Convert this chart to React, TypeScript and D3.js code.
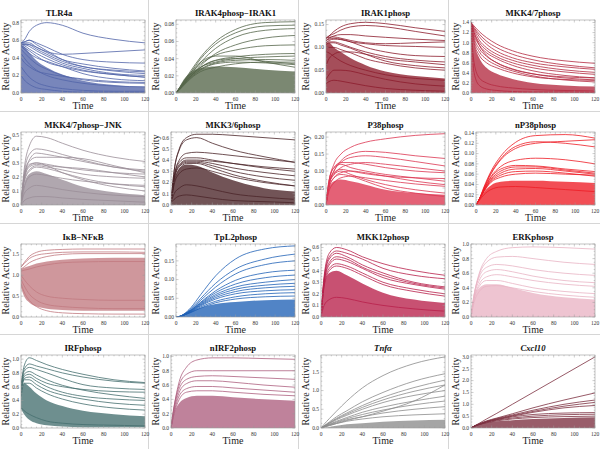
import React from "react";
import * as d3 from "d3";

const TIMES = [0, 3, 8, 15, 25, 40, 60, 90, 120];
const X_TICKS = [0, 20, 40, 60, 80, 100, 120];

const TITLES = [
  "TLR4a", "IRAK4phosp−IRAK1", "IRAK1phosp", "MKK4/7phosp",
  "MKK4/7phosp−JNK", "MKK3/6phosp", "P38phosp", "nP38phosp",
  "IκB−NFκB", "TpL2phosp", "MKK12phosp", "ERKphosp",
  "IRFphosp", "nIRF2phosp", "Tnfα", "Cxcl10",
];
const ITALIC_TITLES = ["Tnfα", "Cxcl10"];

const COLORS = [
  "#5264a8", "#56664a", "#8c1c2c", "#b42a40",
  "#9a8e98", "#4a2428", "#dc3550", "#ee1c25",
  "#c27a80", "#2061b6", "#b8204a", "#e9b4c4",
  "#456f6f", "#ad5f7f", "#8c8c8c", "#7c3040",
];

const Y_MAX = [0.83, 0.085, 0.16, 1.45, 0.52, 0.65, 0.215, 0.142, 1.75, 0.195, 0.63, 1.0, 1.06, 1.02, 1.95, 3.08];
const Y_STEP = [0.2, 0.02, 0.05, 0.2, 0.1, 0.1, 0.05, 0.02, 0.5, 0.05, 0.1, 0.2, 0.2, 0.2, 0.5, 0.5];
const Y_DEC = [1, 2, 2, 1, 1, 1, 2, 2, 1, 2, 1, 1, 1, 1, 1, 1];

// upper edge of the dense bundle of trajectories (lower edge is 0 unless listed)
const tlr4aBand = [0.55, 0.53, 0.46, 0.37, 0.29, 0.21, 0.14, 0.09, 0.07];
const irak4Band = [0, 0.006, 0.016, 0.024, 0.029, 0.031, 0.03, 0.027, 0.025];
const irak1Band = [0.11, 0.11, 0.1, 0.09, 0.076, 0.061, 0.047, 0.037, 0.032];
const mkk47Band = [1.4, 1.0, 0.7, 0.5, 0.38, 0.28, 0.2, 0.15, 0.13];
const jnkBand = [0, 0.15, 0.22, 0.24, 0.22, 0.18, 0.13, 0.09, 0.07];
const mkk36Band = [0.02, 0.2, 0.32, 0.36, 0.35, 0.29, 0.22, 0.15, 0.12];
const p38Band = [0, 0.05, 0.07, 0.075, 0.07, 0.06, 0.045, 0.035, 0.03];
const np38Band = [0, 0.008, 0.025, 0.038, 0.045, 0.047, 0.047, 0.045, 0.043];
const ikbBand = [1.15, 1.18, 1.22, 1.28, 1.33, 1.37, 1.4, 1.42, 1.42];
const ikbLow = [0.7, 0.5, 0.35, 0.25, 0.2, 0.17, 0.15, 0.15, 0.15];
const tpl2Band = [0, 0.001, 0.006, 0.015, 0.025, 0.035, 0.04, 0.045, 0.047];
const mkk12Band = [0, 0.28, 0.38, 0.4, 0.36, 0.29, 0.21, 0.15, 0.12];
const erkBand = [0, 0.25, 0.4, 0.45, 0.45, 0.4, 0.33, 0.27, 0.24];
const irfBand = [0.5, 0.65, 0.6, 0.5, 0.4, 0.32, 0.25, 0.2, 0.17];
const irfLow = [0.28, 0.2, 0.12, 0.07, 0.04, 0.02, 0.01, 0.01, 0.01];
const nirf2Band = [0, 0.2, 0.35, 0.42, 0.45, 0.45, 0.43, 0.4, 0.38];
const tnfBand = [0, 0.01, 0.03, 0.06, 0.1, 0.13, 0.17, 0.2, 0.22];
const cxcl10Band = [0, 0.06, 0.14, 0.22, 0.28, 0.33, 0.38, 0.42, 0.45];

// distinct trajectories standing out from the bundle
const tlr4aLines = [
  [0.57, 0.6, 0.7, 0.77, 0.8, 0.77, 0.68, 0.61, 0.57],
  [0.57, 0.57, 0.57, 0.52, 0.47, 0.44, 0.45, 0.47, 0.49],
  [0.57, 0.58, 0.6, 0.57, 0.52, 0.44, 0.38, 0.35, 0.34],
  [0.57, 0.58, 0.6, 0.55, 0.48, 0.38, 0.3, 0.26, 0.24],
  [0.56, 0.56, 0.55, 0.5, 0.44, 0.36, 0.3, 0.25, 0.22],
  [0.55, 0.55, 0.53, 0.48, 0.42, 0.34, 0.28, 0.22, 0.2],
  [0.55, 0.54, 0.5, 0.45, 0.39, 0.32, 0.26, 0.21, 0.18],
  [0.54, 0.52, 0.48, 0.42, 0.35, 0.3, 0.25, 0.21, 0.18],
  [0.53, 0.5, 0.45, 0.4, 0.36, 0.3, 0.22, 0.16, 0.14],
  [0.56, 0.55, 0.55, 0.52, 0.46, 0.38, 0.33, 0.28, 0.25],
  [0.5, 0.46, 0.4, 0.33, 0.27, 0.2, 0.15, 0.12, 0.11],
  [0.45, 0.4, 0.33, 0.26, 0.2, 0.15, 0.11, 0.08, 0.07],
  [0.4, 0.35, 0.3, 0.25, 0.22, 0.19, 0.16, 0.13, 0.12],
  [0.3, 0.25, 0.18, 0.12, 0.08, 0.05, 0.03, 0.02, 0.02],
  [0.2, 0.15, 0.1, 0.06, 0.04, 0.02, 0.01, 0.01, 0.01],
];
const irak4Lines = [
  [0, 0.005, 0.014, 0.026, 0.042, 0.06, 0.074, 0.082, 0.083],
  [0, 0.005, 0.013, 0.024, 0.04, 0.057, 0.07, 0.078, 0.079],
  [0, 0.005, 0.012, 0.022, 0.036, 0.052, 0.065, 0.073, 0.075],
  [0, 0.004, 0.011, 0.02, 0.032, 0.046, 0.056, 0.064, 0.067],
  [0, 0.004, 0.012, 0.022, 0.034, 0.044, 0.05, 0.055, 0.056],
  [0, 0.005, 0.013, 0.024, 0.036, 0.043, 0.043, 0.036, 0.03],
  [0, 0.004, 0.011, 0.02, 0.03, 0.038, 0.042, 0.045, 0.046],
  [0, 0.004, 0.011, 0.02, 0.03, 0.036, 0.04, 0.042, 0.043],
  [0, 0.004, 0.01, 0.019, 0.028, 0.035, 0.038, 0.039, 0.038],
  [0, 0.004, 0.01, 0.018, 0.027, 0.034, 0.036, 0.035, 0.033],
  [0, 0.004, 0.011, 0.02, 0.03, 0.038, 0.04, 0.037, 0.034],
  [0, 0.003, 0.009, 0.017, 0.025, 0.03, 0.034, 0.036, 0.036],
];
const irak1Lines = [
  [0.12, 0.125, 0.135, 0.145, 0.152, 0.155, 0.152, 0.143, 0.135],
  [0.12, 0.125, 0.13, 0.138, 0.145, 0.148, 0.145, 0.135, 0.125],
  [0.115, 0.12, 0.125, 0.128, 0.128, 0.125, 0.122, 0.118, 0.115],
  [0.12, 0.122, 0.123, 0.12, 0.115, 0.11, 0.108, 0.11, 0.112],
  [0.11, 0.115, 0.118, 0.117, 0.112, 0.108, 0.104, 0.102, 0.1],
  [0.115, 0.118, 0.12, 0.118, 0.112, 0.1, 0.09, 0.082, 0.08],
  [0.11, 0.112, 0.112, 0.108, 0.1, 0.09, 0.08, 0.072, 0.068],
  [0.105, 0.11, 0.11, 0.105, 0.098, 0.085, 0.07, 0.06, 0.055],
  [0.1, 0.1, 0.1, 0.095, 0.088, 0.075, 0.065, 0.055, 0.05],
  [0.06, 0.075, 0.085, 0.09, 0.09, 0.085, 0.075, 0.068, 0.062],
  [0.09, 0.088, 0.08, 0.07, 0.06, 0.05, 0.04, 0.032, 0.028],
  [0.03, 0.04, 0.05, 0.05, 0.048, 0.04, 0.03, 0.02, 0.015],
  [0.02, 0.025, 0.028, 0.026, 0.022, 0.016, 0.01, 0.006, 0.004],
];
const mkk47Lines = [
  [1.4, 1.33, 1.22, 1.1, 0.97, 0.84, 0.73, 0.64, 0.59],
  [1.4, 1.3, 1.17, 1.03, 0.9, 0.77, 0.66, 0.56, 0.5],
  [1.4, 1.28, 1.12, 0.97, 0.83, 0.7, 0.6, 0.52, 0.47],
  [1.4, 1.25, 1.05, 0.9, 0.77, 0.65, 0.55, 0.46, 0.41],
  [1.4, 1.2, 1.0, 0.85, 0.72, 0.6, 0.5, 0.42, 0.37],
  [1.4, 1.15, 0.95, 0.8, 0.68, 0.55, 0.44, 0.35, 0.3],
  [1.4, 1.1, 0.88, 0.73, 0.6, 0.48, 0.38, 0.3, 0.26],
  [1.4, 1.05, 0.82, 0.67, 0.55, 0.44, 0.34, 0.26, 0.22],
  [1.4, 1.0, 0.75, 0.6, 0.5, 0.4, 0.32, 0.27, 0.25],
  [1.4, 1.2, 0.95, 0.75, 0.6, 0.47, 0.38, 0.32, 0.3],
  [1.4, 0.6, 0.3, 0.2, 0.14, 0.1, 0.07, 0.05, 0.04],
  [1.4, 0.4, 0.15, 0.08, 0.05, 0.03, 0.02, 0.02, 0.01],
];
const jnkLines = [
  [0, 0.25, 0.42, 0.49, 0.48, 0.44, 0.39, 0.34, 0.31],
  [0, 0.22, 0.36, 0.4, 0.39, 0.36, 0.32, 0.27, 0.24],
  [0, 0.2, 0.32, 0.37, 0.36, 0.34, 0.31, 0.27, 0.25],
  [0, 0.2, 0.31, 0.34, 0.34, 0.34, 0.33, 0.28, 0.23],
  [0, 0.19, 0.29, 0.3, 0.29, 0.27, 0.25, 0.23, 0.22],
  [0, 0.18, 0.27, 0.29, 0.28, 0.27, 0.26, 0.23, 0.2],
  [0, 0.17, 0.25, 0.28, 0.27, 0.25, 0.22, 0.2, 0.19],
  [0, 0.16, 0.24, 0.27, 0.26, 0.23, 0.19, 0.15, 0.13],
  [0, 0.18, 0.28, 0.3, 0.28, 0.23, 0.18, 0.13, 0.1],
  [0, 0.12, 0.2, 0.22, 0.21, 0.19, 0.17, 0.15, 0.14],
  [0, 0.08, 0.12, 0.14, 0.13, 0.11, 0.09, 0.07, 0.06],
  [0, 0.03, 0.05, 0.06, 0.06, 0.05, 0.04, 0.03, 0.02],
];
const mkk36Lines = [
  [0.02, 0.3, 0.5, 0.6, 0.63, 0.63, 0.62, 0.6, 0.58],
  [0.02, 0.3, 0.49, 0.58, 0.6, 0.55, 0.49, 0.43, 0.38],
  [0.02, 0.25, 0.4, 0.46, 0.47, 0.46, 0.44, 0.41, 0.38],
  [0.02, 0.25, 0.38, 0.42, 0.42, 0.4, 0.37, 0.33, 0.3],
  [0.02, 0.24, 0.36, 0.4, 0.4, 0.39, 0.37, 0.34, 0.32],
  [0.02, 0.23, 0.35, 0.39, 0.39, 0.37, 0.33, 0.29, 0.26],
  [0.02, 0.22, 0.34, 0.38, 0.38, 0.35, 0.3, 0.25, 0.22],
  [0.02, 0.2, 0.32, 0.37, 0.37, 0.33, 0.27, 0.21, 0.17],
  [0.02, 0.18, 0.28, 0.32, 0.33, 0.3, 0.25, 0.2, 0.17],
  [0.02, 0.1, 0.15, 0.18, 0.17, 0.14, 0.1, 0.07, 0.05],
  [0.02, 0.05, 0.08, 0.09, 0.08, 0.06, 0.04, 0.03, 0.02],
];
const p38Lines = [
  [0, 0.07, 0.12, 0.15, 0.17, 0.185, 0.195, 0.205, 0.21],
  [0, 0.06, 0.1, 0.13, 0.15, 0.158, 0.155, 0.145, 0.137],
  [0, 0.06, 0.1, 0.125, 0.14, 0.145, 0.14, 0.128, 0.115],
  [0, 0.07, 0.11, 0.125, 0.125, 0.12, 0.11, 0.1, 0.095],
  [0, 0.06, 0.09, 0.11, 0.12, 0.125, 0.12, 0.11, 0.1],
  [0, 0.07, 0.11, 0.12, 0.11, 0.1, 0.09, 0.08, 0.07],
  [0, 0.06, 0.095, 0.105, 0.1, 0.092, 0.085, 0.08, 0.078],
  [0, 0.05, 0.08, 0.095, 0.1, 0.095, 0.085, 0.07, 0.06],
  [0, 0.06, 0.09, 0.1, 0.09, 0.075, 0.06, 0.045, 0.035],
  [0, 0.04, 0.065, 0.08, 0.085, 0.08, 0.072, 0.062, 0.055],
  [0, 0.05, 0.08, 0.09, 0.085, 0.07, 0.05, 0.035, 0.025],
];
const np38Lines = [
  [0, 0.01, 0.035, 0.065, 0.095, 0.122, 0.135, 0.137, 0.13],
  [0, 0.01, 0.032, 0.06, 0.088, 0.11, 0.12, 0.124, 0.127],
  [0, 0.01, 0.033, 0.062, 0.09, 0.114, 0.123, 0.12, 0.113],
  [0, 0.01, 0.03, 0.055, 0.075, 0.087, 0.091, 0.088, 0.08],
  [0, 0.01, 0.03, 0.053, 0.07, 0.077, 0.076, 0.07, 0.065],
  [0, 0.01, 0.028, 0.05, 0.066, 0.074, 0.074, 0.068, 0.062],
  [0, 0.01, 0.028, 0.048, 0.062, 0.07, 0.071, 0.066, 0.06],
  [0, 0.009, 0.027, 0.046, 0.058, 0.065, 0.066, 0.062, 0.056],
  [0, 0.009, 0.026, 0.044, 0.054, 0.06, 0.062, 0.06, 0.058],
  [0, 0.008, 0.02, 0.03, 0.035, 0.036, 0.034, 0.03, 0.026],
];
const ikbLines = [
  [1.2, 1.3, 1.45, 1.55, 1.6, 1.62, 1.63, 1.63, 1.63],
  [1.2, 1.28, 1.4, 1.48, 1.52, 1.55, 1.56, 1.56, 1.55],
  [1.15, 1.2, 1.3, 1.38, 1.45, 1.5, 1.52, 1.52, 1.52],
  [1.1, 1.12, 1.15, 1.2, 1.25, 1.3, 1.32, 1.33, 1.33],
  [1.0, 0.9, 0.75, 0.6, 0.5, 0.45, 0.42, 0.4, 0.4],
  [0.9, 0.75, 0.55, 0.4, 0.3, 0.25, 0.22, 0.2, 0.2],
  [0.8, 0.6, 0.4, 0.25, 0.15, 0.1, 0.08, 0.07, 0.07],
];
const tpl2Lines = [
  [0, 0.001, 0.008, 0.025, 0.06, 0.11, 0.155, 0.182, 0.19],
  [0, 0.001, 0.007, 0.022, 0.05, 0.09, 0.128, 0.155, 0.168],
  [0, 0.001, 0.007, 0.02, 0.045, 0.08, 0.115, 0.14, 0.15],
  [0, 0.001, 0.006, 0.018, 0.04, 0.07, 0.098, 0.118, 0.125],
  [0, 0.001, 0.006, 0.018, 0.038, 0.065, 0.088, 0.105, 0.112],
  [0, 0.001, 0.006, 0.017, 0.036, 0.06, 0.08, 0.093, 0.1],
  [0, 0.001, 0.006, 0.016, 0.034, 0.056, 0.074, 0.085, 0.09],
  [0, 0.001, 0.005, 0.015, 0.032, 0.052, 0.068, 0.078, 0.082],
  [0, 0.001, 0.005, 0.014, 0.03, 0.048, 0.062, 0.07, 0.073],
  [0, 0.001, 0.005, 0.013, 0.027, 0.042, 0.054, 0.062, 0.065],
  [0, 0.001, 0.005, 0.012, 0.024, 0.038, 0.048, 0.054, 0.056],
];
const mkk12Lines = [
  [0, 0.35, 0.55, 0.6, 0.58, 0.52, 0.46, 0.4, 0.36],
  [0, 0.33, 0.52, 0.57, 0.55, 0.5, 0.42, 0.36, 0.33],
  [0, 0.32, 0.5, 0.55, 0.52, 0.45, 0.38, 0.3, 0.26],
  [0, 0.3, 0.47, 0.52, 0.5, 0.43, 0.36, 0.29, 0.25],
  [0, 0.3, 0.45, 0.5, 0.48, 0.42, 0.34, 0.28, 0.24],
  [0, 0.28, 0.42, 0.46, 0.44, 0.38, 0.3, 0.24, 0.2],
  [0, 0.26, 0.4, 0.44, 0.42, 0.36, 0.28, 0.22, 0.18],
  [0, 0.1, 0.15, 0.17, 0.16, 0.13, 0.1, 0.07, 0.05],
];
const erkLines = [
  [0, 0.3, 0.6, 0.8, 0.9, 0.95, 0.96, 0.95, 0.93],
  [0, 0.3, 0.58, 0.75, 0.82, 0.83, 0.8, 0.75, 0.72],
  [0, 0.3, 0.55, 0.68, 0.72, 0.7, 0.65, 0.6, 0.57],
  [0, 0.28, 0.5, 0.62, 0.65, 0.62, 0.56, 0.5, 0.47],
  [0, 0.25, 0.45, 0.55, 0.58, 0.55, 0.5, 0.45, 0.42],
  [0, 0.25, 0.42, 0.5, 0.5, 0.46, 0.4, 0.35, 0.32],
  [0, 0.2, 0.35, 0.42, 0.43, 0.4, 0.35, 0.3, 0.27],
];
const irfLines = [
  [0.6, 0.9, 1.02, 0.98, 0.92, 0.85, 0.78, 0.7, 0.66],
  [0.6, 0.85, 0.93, 0.9, 0.86, 0.8, 0.74, 0.68, 0.65],
  [0.6, 0.82, 0.88, 0.85, 0.8, 0.72, 0.63, 0.58, 0.56],
  [0.55, 0.78, 0.82, 0.77, 0.7, 0.62, 0.55, 0.48, 0.43],
  [0.55, 0.75, 0.78, 0.72, 0.65, 0.6, 0.56, 0.53, 0.52],
  [0.5, 0.72, 0.74, 0.68, 0.6, 0.52, 0.46, 0.42, 0.4],
  [0.5, 0.7, 0.7, 0.63, 0.55, 0.48, 0.42, 0.36, 0.33],
  [0.45, 0.65, 0.65, 0.58, 0.5, 0.42, 0.35, 0.29, 0.26],
  [0.3, 0.25, 0.2, 0.15, 0.1, 0.07, 0.05, 0.04, 0.03],
];
const nirf2Lines = [
  [0, 0.3, 0.65, 0.85, 0.95, 0.98, 0.98, 0.97, 0.96],
  [0, 0.3, 0.6, 0.75, 0.8, 0.8, 0.8, 0.8, 0.8],
  [0, 0.28, 0.55, 0.68, 0.72, 0.73, 0.72, 0.7, 0.68],
  [0, 0.25, 0.5, 0.62, 0.66, 0.66, 0.64, 0.6, 0.57],
  [0, 0.22, 0.45, 0.55, 0.58, 0.58, 0.56, 0.53, 0.5],
  [0, 0.2, 0.4, 0.5, 0.52, 0.52, 0.5, 0.47, 0.45],
];
const tnfLines = [
  [0, 0.1, 0.25, 0.45, 0.72, 1.07, 1.4, 1.72, 1.9],
  [0, 0.06, 0.16, 0.3, 0.46, 0.7, 0.95, 1.25, 1.45],
  [0, 0.05, 0.14, 0.26, 0.4, 0.6, 0.82, 1.08, 1.28],
  [0, 0.05, 0.13, 0.24, 0.37, 0.55, 0.75, 0.98, 1.15],
  [0, 0.05, 0.12, 0.22, 0.34, 0.5, 0.68, 0.87, 1.0],
  [0, 0.02, 0.06, 0.12, 0.2, 0.3, 0.45, 0.72, 1.15],
  [0, 0.04, 0.1, 0.18, 0.28, 0.42, 0.56, 0.72, 0.85],
  [0, 0.03, 0.09, 0.16, 0.25, 0.36, 0.48, 0.62, 0.72],
  [0, 0.03, 0.08, 0.14, 0.22, 0.3, 0.4, 0.5, 0.57],
  [0, 0.03, 0.07, 0.12, 0.18, 0.24, 0.3, 0.35, 0.38],
];
const cxcl10Lines = [
  [0, 0.08, 0.2, 0.38, 0.62, 1.0, 1.5, 2.25, 3.0],
  [0, 0.08, 0.18, 0.3, 0.42, 0.6, 0.85, 1.18, 1.48],
  [0, 0.07, 0.17, 0.28, 0.4, 0.55, 0.75, 1.0, 1.18],
  [0, 0.07, 0.16, 0.27, 0.38, 0.52, 0.7, 0.92, 1.08],
  [0, 0.07, 0.16, 0.26, 0.36, 0.5, 0.66, 0.85, 0.95],
  [0, 0.07, 0.15, 0.25, 0.35, 0.47, 0.57, 0.63, 0.65],
  [0, 0.07, 0.15, 0.24, 0.33, 0.42, 0.5, 0.56, 0.58],
  [0, 0.06, 0.14, 0.22, 0.3, 0.38, 0.44, 0.48, 0.5],
];

const BANDS = [
  tlr4aBand, irak4Band, irak1Band, mkk47Band, jnkBand, mkk36Band, p38Band, np38Band,
  ikbBand, tpl2Band, mkk12Band, erkBand, irfBand, nirf2Band, tnfBand, cxcl10Band,
];
const LINES = [
  tlr4aLines, irak4Lines, irak1Lines, mkk47Lines, jnkLines, mkk36Lines, p38Lines, np38Lines,
  ikbLines, tpl2Lines, mkk12Lines, erkLines, irfLines, nirf2Lines, tnfLines, cxcl10Lines,
];
const LOWS: Record<number, number[]> = { 8: ikbLow, 12: irfLow };

const SERIF = '"Liberation Serif", "Times New Roman", serif';
const ROW_TOPS = [0, 112, 224, 335];

function Panel({ idx }: { idx: number }) {
  const px = (idx % 4) * 150;
  const py = ROW_TOPS[Math.floor(idx / 4)];
  const dec = Y_DEC[idx];
  const left = px + (dec === 2 ? 26 : 21);
  const right = px + 145;
  const top = py + 20;
  const bottom = py + 93;

  const x = d3.scaleLinear().domain([0, 120]).range([left, right]);
  const y = d3.scaleLinear().domain([0, Y_MAX[idx]]).range([bottom, top]);
  const step = Y_STEP[idx];
  const yTicks = d3.range(0, Y_MAX[idx] + 1e-9, step);
  const yMinor = d3.range(0, Y_MAX[idx] + 1e-9, step / 4);
  const xMinor = d3.range(0, 121, 5);
  const fmt = d3.format(`.${dec}f`);

  const line = d3.line<number>()
    .x((_, i) => x(TIMES[i]))
    .y((d) => y(d))
    .curve(d3.curveMonotoneX);
  const low = LOWS[idx];
  const area = d3.area<number>()
    .x((_, i) => x(TIMES[i]))
    .y0((_, i) => y(low ? low[i] : 0))
    .y1((d) => y(d))
    .curve(d3.curveMonotoneX);

  const color = COLORS[idx];
  const clipId = `clip${idx}`;
  const title = TITLES[idx];
  const titleX = (left + right) / 2 + (idx === 0 ? -24 : 0);

  return (
    <g>
      <clipPath id={clipId}>
        <rect x={left} y={top} width={right - left} height={bottom - top} />
      </clipPath>
      <g clipPath={`url(#${clipId})`}>
        <path d={area(BANDS[idx]) ?? ""} fill={color} fillOpacity={0.78} />
        {LINES[idx].map((vals, i) => (
          <path key={i} d={line(vals) ?? ""} fill="none" stroke={color} strokeWidth={0.8} />
        ))}
      </g>
      <rect x={left} y={top} width={right - left} height={bottom - top} fill="none" stroke="#9a9a9a" strokeWidth={0.6} />
      {xMinor.map((t) => {
        const len = t % 20 === 0 ? 2.5 : 1.3;
        return (
          <g key={`x${t}`} stroke="#9a9a9a" strokeWidth={0.5}>
            <line x1={x(t)} x2={x(t)} y1={bottom} y2={bottom - len} />
            <line x1={x(t)} x2={x(t)} y1={top} y2={top + len} />
          </g>
        );
      })}
      {yMinor.map((v, i) => {
        const len = i % 4 === 0 ? 2.5 : 1.3;
        return (
          <g key={`y${i}`} stroke="#9a9a9a" strokeWidth={0.5}>
            <line x1={left} x2={left + len} y1={y(v)} y2={y(v)} />
            <line x1={right} x2={right - len} y1={y(v)} y2={y(v)} />
          </g>
        );
      })}
      {X_TICKS.map((t) => (
        <text key={`xl${t}`} x={x(t)} y={bottom + 7.5} fontSize={5.5} textAnchor="middle" fill="#333" fontFamily={SERIF}>
          {t}
        </text>
      ))}
      {yTicks.map((v, i) => (
        <text key={`yl${i}`} x={left - 2} y={y(v) + 1.9} fontSize={5.5} textAnchor="end" fill="#333" fontFamily={SERIF}>
          {fmt(v)}
        </text>
      ))}
      <text x={titleX} y={py + 15.5} fontSize={8.7} fontWeight="bold" fontStyle={ITALIC_TITLES.includes(title) ? "italic" : "normal"} textAnchor="middle" fontFamily={SERIF} fill="#111">
        {title}
      </text>
      <text x={(left + right) / 2} y={py + 109} fontSize={10} textAnchor="middle" fontFamily={SERIF} fill="#222">
        Time
      </text>
      <text transform={`translate(${px + 8.5},${(top + bottom) / 2}) rotate(-90)`} fontSize={10} textAnchor="middle" fontFamily={SERIF} fill="#222">
        Relative Activity
      </text>
    </g>
  );
}

export default function App() {
  return (
    <svg width={600} height={449} style={{ position: "absolute", left: 0, top: 0, display: "block" }}>
      <rect width={600} height={449} fill="#fff" />
      {[148.5, 298.5, 448.5].map((v) => (
        <line key={`v${v}`} x1={v} x2={v} y1={0} y2={449} stroke="#d6d6d6" strokeWidth={1} />
      ))}
      {[111.5, 223.5, 334.5].map((v) => (
        <line key={`h${v}`} x1={0} x2={600} y1={v} y2={v} stroke="#d6d6d6" strokeWidth={1} />
      ))}
      {TITLES.map((_, i) => (
        <Panel key={i} idx={i} />
      ))}
    </svg>
  );
}
